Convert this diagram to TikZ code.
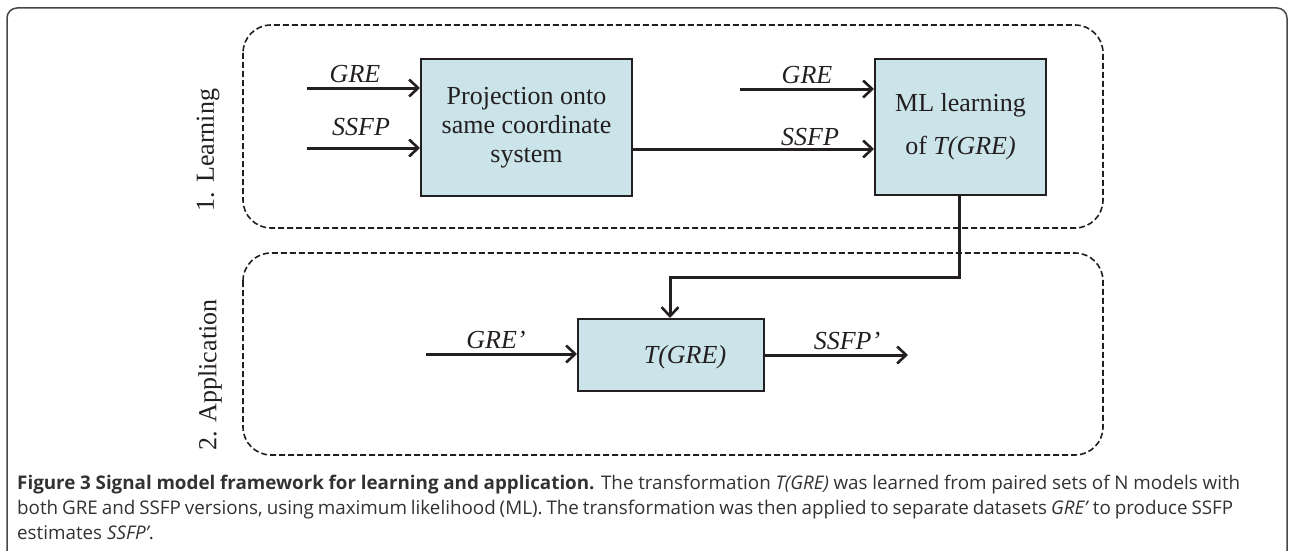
\documentclass[tikz,border=0pt]{standalone}
\usepackage{fontspec}
\setmainfont{Liberation Serif}
\newfontfamily\capfont{Open Sans}
\usetikzlibrary{arrows.meta,calc}
\definecolor{boxfill}{RGB}{203,228,234}
\definecolor{ink}{RGB}{35,31,32}
\definecolor{capgray}{RGB}{50,50,50}
\definecolor{framegray}{RGB}{70,70,70}
\tikzset{
  blockbox/.style={draw=ink, line width=2pt, fill=boxfill, inner sep=0pt, text=ink, align=center},
  phasebox/.style={draw=ink, line width=1.6pt, dash pattern=on 6pt off 3pt, rounded corners=28pt},
  arr/.style={draw=ink, line width=3pt, -{Straight Barb[length=9pt,width=17pt,line width=2.6pt]}},
  conn/.style={draw=ink, line width=3pt},
  lbl/.style={anchor=base, text=ink, font=\fontsize{26}{30}\selectfont\itshape, inner sep=0pt},
  phaselbl/.style={text=ink, font=\fontsize{26}{30}\selectfont, rotate=90, inner sep=0pt},
  capline/.style={anchor=base west, text=capgray, font=\capfont\fontsize{18.8}{25}\selectfont, inner sep=0pt}
}
\begin{document}
\begin{tikzpicture}[x=1pt,y=-1pt]
\useasboundingbox (0,0) rectangle (1290,551);
% outer frame
\draw[framegray, line width=1.5pt, rounded corners=10pt] (7,551) -- (7,8) -- (1287,8) -- (1287,551);
% phase boxes
\draw[phasebox] (243,25) rectangle (1103,228);
\draw[phasebox] (243,253) rectangle (1103,455);
\node[phaselbl] (lrn) at (208,150) {1. Learning};
\node[phaselbl] (app) at (210,375) {2. Application};
% blocks
\node[blockbox, minimum width=211pt, minimum height=137pt, font=\fontsize{26}{29}\selectfont] (proj) at (526.5,127.5) {Projection onto\\same coordinate\\system};
\node[blockbox, minimum width=171pt, minimum height=136pt, font=\fontsize{26}{30}\selectfont] (ml) at (960.5,127) {ML learning\\[13pt]of \textit{T(GRE)}};
\node[blockbox, minimum width=186pt, minimum height=72pt] (tg) at (671,355) {};
\node[text=ink, font=\fontsize{26}{30}\selectfont\itshape, inner sep=0pt] (tgl) at (685,357) {T(GRE)};
% inputs
\coordinate (g1) at (307,88);
\coordinate (s1) at (307,148);
\coordinate (g2) at (740,89);
\coordinate (ga) at (426,354);
\coordinate (sa) at (908,355);
\draw[arr] (g1) -- (g1 -| proj.west);
\draw[arr] (s1) -- (s1 -| proj.west);
\draw[arr] (g2) -- (g2 -| ml.west);
\draw[arr] (proj.east |- 0,149) -- (ml.west |- 0,149);
\draw[arr] (ml.south -| 959,0) |- (670,277) -- (tg.north -| 670,0);
\draw[arr] (ga) -- (ga -| tg.west);
\draw[arr] (tg.east |- sa) -- (sa);
% labels
\node[lbl] (lg1) at (355,82) {GRE};
\node[lbl] (ls1) at (361,135) {SSFP};
\node[lbl] (lg2) at (807,84) {GRE};
\node[lbl] (ls2) at (810,145) {SSFP};
\node[lbl] (lga) at (496,348) {GRE’};
\node[lbl] (lsa) at (847,349) {SSFP’};
% caption
\node[capline] (c1) at (17,489) {\makebox[1223pt][s]{\textbf{Figure 3 Signal model framework for learning and application.} The transformation \textit{T(GRE)} was learned from paired sets of N models with}};
\node[capline] (c2) at (17,514) {\makebox[1216pt][s]{both GRE and SSFP versions, using maximum likelihood (ML). The transformation was then applied to separate datasets \textit{GRE’} to produce SSFP}};
\node[capline] (c3) at (17,539) {estimates \textit{SSFP’}.};
\end{tikzpicture}
\end{document}
